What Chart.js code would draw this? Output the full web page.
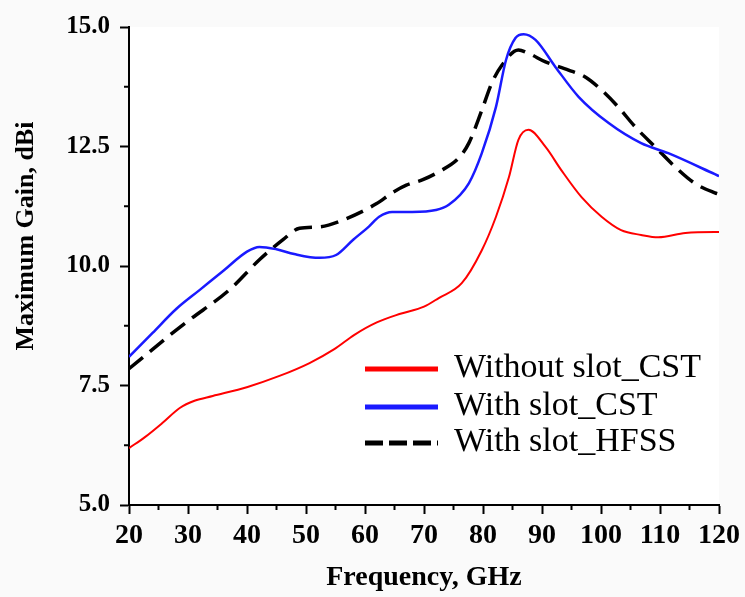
<!DOCTYPE html>
<html>
<head>
<meta charset="utf-8">
<script src="https://cdn.jsdelivr.net/npm/chart.js@4/dist/chart.umd.min.js"></script>
<style>
  html, body { margin: 0; padding: 0; background: #fafafa; }
  canvas { display: block; }
</style>
</head>
<body>
<canvas id="myChart" width="745" height="597"></canvas>
<script>
// frequency (GHz) / gain (dBi)
const freqNoSlot = [20, 22.7, 25.7, 28.6, 31.1, 34.2, 40.1, 45.5, 50.6, 54.8, 58.2, 62, 66, 70, 72.5, 76.4, 79.8, 82.2, 84.4, 86.0, 87.7, 90.6, 93.3, 96.7, 100.1, 103.4, 106.8, 109.7, 114.3, 119.3, 120];
const gainNoSlot = [6.19, 6.42, 6.72, 7.03, 7.18, 7.28, 7.47, 7.70, 7.97, 8.26, 8.56, 8.82, 9.0, 9.15, 9.33, 9.64, 10.33, 11.03, 11.86, 12.64, 12.85, 12.49, 12.0, 11.44, 11.03, 10.75, 10.65, 10.6, 10.69, 10.71, 10.71];

const freqSlotCst = [20, 24, 28, 32, 36, 40, 42.1, 45, 48, 52.3, 55.1, 58, 60.7, 62.4, 64.6, 68, 72, 74.2, 77.6, 79.8, 82.2, 83.9, 85.5, 86.9, 88.9, 92.3, 96.2, 101.3, 106.8, 111.4, 119.3, 120];
const gainSlotCst = [8.10, 8.6, 9.1, 9.5, 9.9, 10.3, 10.40, 10.35, 10.25, 10.17, 10.23, 10.55, 10.83, 11.03, 11.13, 11.13, 11.17, 11.28, 11.73, 12.36, 13.33, 14.31, 14.77, 14.85, 14.73, 14.16, 13.54, 12.99, 12.57, 12.36, 11.92, 11.88];

const freqSlotHfss = [20, 27.4, 30, 37, 42.1, 46, 48.9, 52.3, 56, 61.9, 64.6, 67, 69.7, 72.5, 75.9, 77.6, 79.8, 81.5, 83.2, 86.0, 87.7, 90.6, 94.5, 97.4, 100.1, 102.9, 105.8, 109.2, 112.6, 115.9, 119.3, 120];
const gainSlotHfss = [7.85, 8.6, 8.85, 9.5, 10.13, 10.54, 10.79, 10.82, 10.95, 11.3, 11.53, 11.69, 11.8, 11.97, 12.26, 12.57, 13.26, 13.83, 14.2, 14.52, 14.45, 14.27, 14.1, 13.95, 13.68, 13.33, 12.91, 12.49, 12.07, 11.73, 11.53, 11.5];

const xMinorTicks = [25, 35, 45, 55, 65, 75, 85, 95, 105, 115];
const yMinorTicks = [6.25, 8.75, 11.25, 13.75];
const yTitle = 'Maximum Gain, dBi';

const toPoints = (xs, ys) => xs.map((x, i) => ({ x: x, y: ys[i] }));

const serif = 'Liberation Serif, Times New Roman, serif';

const bgPlugin = {
    id: 'bg',
    beforeDraw(chart) {
        const { ctx, chartArea: a } = chart;
        ctx.save();
        ctx.fillStyle = '#fafafa';
        ctx.fillRect(0, 0, chart.width, chart.height);
        ctx.fillStyle = '#ffffff';
        ctx.fillRect(a.left, a.top, a.right - a.left, a.bottom - a.top);
        ctx.restore();
    }
};

const minorTicks = {
    id: 'minorTicks',
    afterDraw(chart) {
        const { ctx, scales } = chart;
        ctx.save();
        ctx.strokeStyle = '#000';
        ctx.lineWidth = 2;
        const yb = scales.y.getPixelForValue(5);
        xMinorTicks.forEach(v => {
            const px = scales.x.getPixelForValue(v);
            ctx.beginPath(); ctx.moveTo(px, yb); ctx.lineTo(px, yb + 5); ctx.stroke();
        });
        const xl = scales.x.getPixelForValue(20);
        yMinorTicks.forEach(v => {
            const py = scales.y.getPixelForValue(v);
            ctx.beginPath(); ctx.moveTo(xl, py); ctx.lineTo(xl - 5, py); ctx.stroke();
        });
        // y title sits a bit above the axis middle in the original
        ctx.translate(26, 236);
        ctx.rotate(-Math.PI / 2);
        ctx.font = 'bold 26px ' + serif;
        ctx.fillStyle = '#000';
        ctx.textAlign = 'center';
        ctx.textBaseline = 'middle';
        ctx.fillText(yTitle, 0, 0);
        ctx.restore();
    }
};

// legend drawn inside the plot, lower right
const boxLegend = {
    id: 'boxLegend',
    afterDatasetsDraw(chart) {
        const ctx = chart.ctx;
        const rows = [369, 407, 443];
        ctx.save();
        ctx.fillStyle = '#ffffff';
        ctx.fillRect(356, 350, 362, 122);
        ctx.font = '34px ' + serif;
        ctx.textBaseline = 'middle';
        ctx.fillStyle = '#000';
        chart.data.datasets.forEach((ds, i) => {
            ctx.strokeStyle = ds.borderColor;
            ctx.lineWidth = 5;
            ctx.lineCap = 'butt';
            ctx.setLineDash(ds.borderDash && ds.borderDash.length ? [18, 6] : []);
            ctx.beginPath();
            ctx.moveTo(365, rows[i]);
            ctx.lineTo(438, rows[i]);
            ctx.stroke();
            ctx.setLineDash([]);
            ctx.fillText(ds.label, 454, rows[i] - 1);
        });
        ctx.restore();
    }
};

const data = {
    datasets: [
    {
        label: 'Without slot_CST',
        borderColor: '#ff0000',
        borderWidth: 2,
        data: toPoints(freqNoSlot, gainNoSlot),
    },
    {
        label: 'With slot_CST',
        borderColor: '#1a1aff',
        borderWidth: 2.5,
        data: toPoints(freqSlotCst, gainSlotCst),
    },
    {
        label: 'With slot_HFSS',
        borderColor: '#000000',
        borderWidth: 3.5,
        borderDash: [18, 9],
        tension: 0.2,
        data: toPoints(freqSlotHfss, gainSlotHfss),
    }]
};

const config = {
    type: 'line',
    data: data,
    options: {
        responsive: false,
        animation: false,
        layout: { padding: { top: 27, right: 24, left: 0, bottom: 0 } },
        elements: {
            point: { radius: 0 },
            line: { tension: 0.4, cubicInterpolationMode: 'monotone' }
        },
        plugins: { legend: { display: false }, tooltip: { enabled: false } },
        scales: {
            x: {
                type: 'linear', min: 20, max: 120,
                ticks: { stepSize: 10, color: '#000', padding: 5, maxRotation: 0,
                    font: { family: serif, size: 28, weight: 'bold' } },
                grid: { drawOnChartArea: false, drawTicks: true, tickLength: 9, tickColor: '#000', tickWidth: 2 },
                border: { color: '#000', width: 2 },
                title: { display: true, text: 'Frequency, GHz', color: '#000', padding: { top: 0, bottom: 2 },
                    font: { family: serif, size: 28, weight: 'bold' } },
                afterFit: s => { s.height = 92; }
            },
            y: {
                min: 5, max: 15,
                ticks: { stepSize: 2.5, color: '#000', padding: 10,
                    callback: v => v.toFixed(1),
                    font: { family: serif, size: 25, weight: 'bold' } },
                grid: { drawOnChartArea: false, drawTicks: true, tickLength: 9, tickColor: '#000', tickWidth: 2 },
                border: { color: '#000', width: 2 },
                afterFit: s => { s.width = 129; }
            }
        }
    },
    plugins: [bgPlugin, minorTicks, boxLegend]
};

const myChart = new Chart(
    document.getElementById('myChart'),
    config
);
</script>
</body>
</html>
